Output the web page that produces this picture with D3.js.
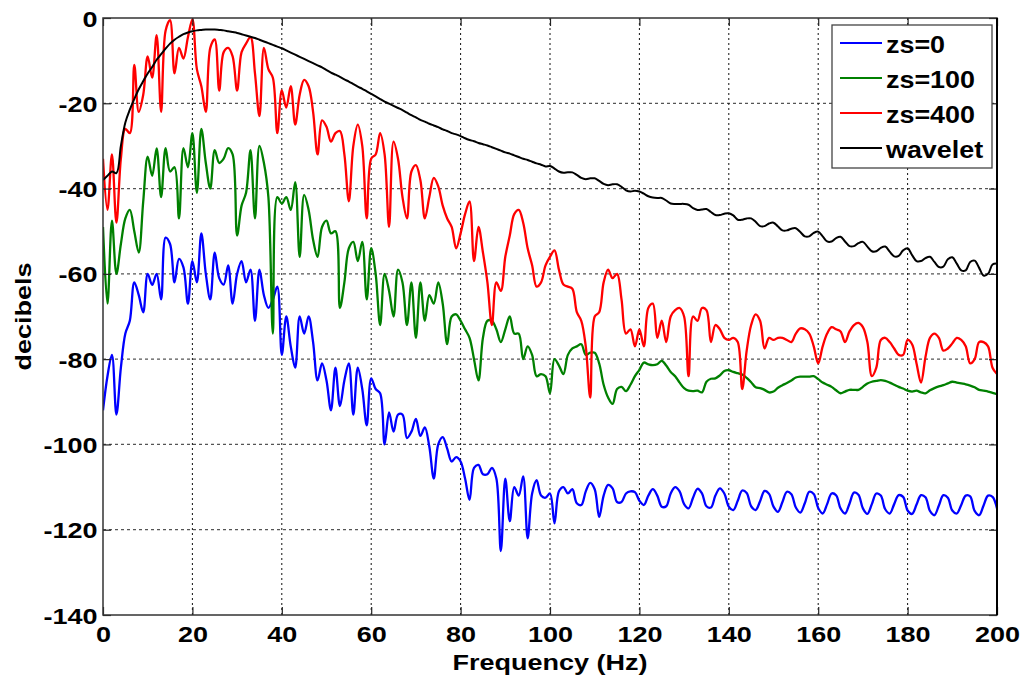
<!DOCTYPE html>
<html>
<head>
<meta charset="utf-8">
<script src="https://cdn.jsdelivr.net/npm/d3@7"></script>
<style>
  body { margin: 0; background: #fff; }
  svg { display: block; }
</style>
</head>
<body>
<div id="chart"></div>
<script>
// frequency grid (Hz), one sample per Hz
var freq = d3.range(0, 201);

// wavelet spectrum
var wavelet = [
  -38, -37, -36, -36.4, -30, -24.5, -21.5, -19, -16.7, -14.8,
  -13, -11.5, -9.8, -8.5, -7.2, -6, -5.1, -4.4, -3.8, -3.4,
  -3.1, -2.9, -2.8, -2.7, -2.7, -2.7, -2.8, -2.9, -3.1, -3.3,
  -3.5, -3.8, -4.1, -4.4, -4.7, -5.1, -5.5, -5.9, -6.3, -6.7,
  -7.1, -7.6, -8.1, -8.6, -9.1, -9.6, -10.1, -10.6, -11.1, -11.6,
  -12.2, -12.8, -13.3, -13.8, -14.4, -14.9, -15.5, -16.1, -16.6, -17.2,
  -17.8, -18.4, -19.0, -19.6, -20.1, -20.6, -21.1, -21.6, -22.2, -22.8,
  -23.3, -23.9, -24.3, -24.8, -25.2, -25.6, -26.1, -26.5, -27.0, -27.3,
  -27.7, -28.2, -28.6, -28.9, -29.3, -29.6, -29.9, -30.3, -30.7, -31.1,
  -31.5, -31.8, -32.2, -32.6, -33.0, -33.3, -33.7, -34.1, -34.4, -34.8,
  -34.7, -35.3, -36.0, -36.3, -36.2, -36.2, -36.8, -37.5, -37.8, -37.6,
  -37.6, -38.2, -38.9, -39.2, -39.0, -39.0, -39.6, -40.4, -40.7, -40.5,
  -40.7, -41.2, -41.8, -42.1, -42.2, -42.2, -42.8, -43.5, -43.6, -43.6,
  -43.6, -43.8, -44.6, -45.0, -44.9, -44.8, -45.5, -46.2, -46.2, -45.9,
  -45.8, -46.3, -47.3, -47.3, -47.0, -47.0, -47.8, -48.8, -48.8, -48.2,
  -48.0, -48.9, -49.8, -49.8, -49.4, -49.3, -50.2, -51.2, -51.2, -50.4,
  -50.1, -51.2, -52.4, -52.4, -51.6, -51.3, -52.4, -53.5, -53.5, -52.8,
  -52.5, -53.6, -54.7, -54.7, -53.9, -53.6, -54.8, -55.9, -55.8, -54.5,
  -54.0, -55.6, -57.0, -57.0, -56.3, -56.0, -57.2, -58.4, -58.3, -56.6,
  -56.1, -57.6, -59.2, -59.2, -57.2, -56.9, -58.6, -60.4, -60.0, -57.8,
  -57.6
];

// zs=400
var zs400 = [
  -33, -45, -32, -48, -33, -26, -27, -11, -22, -18,
  -9, -14, -4, -22, -3, -0.5, -13, -7, -9.5, -4.5,
  -0.3, -12, -16, -22, -7, -5, -17, -8, -7, -9,
  -17, -8, -6, -4.5, -13, -23, -7, -12, -14, -27,
  -17, -21, -16, -25, -18, -14.5, -16, -22, -32, -24,
  -25.5, -29, -27, -26.5, -32, -43, -30, -25, -30, -47,
  -33, -32, -27, -32, -49, -29, -33, -42, -47, -36,
  -34.5, -38, -47, -42, -37.5, -39.5, -44, -47, -49, -54,
  -50.5, -46, -43, -57, -49, -55, -62, -72, -62, -64,
  -56, -51, -46, -45, -48, -54, -58, -63, -62, -58,
  -56, -54.5, -59, -62.5, -63, -63.5, -69, -71, -77, -89,
  -70, -69, -62, -59, -61, -60, -66, -74, -73, -77,
  -73, -77, -68, -67, -75, -71, -76, -70, -68.5, -68,
  -70, -84, -70, -71, -68, -68.5, -76, -72, -73, -75,
  -75.5, -75, -76, -87, -78, -72, -69.5, -71, -77.5, -75,
  -75.5, -75, -75, -75.5, -76, -74, -72.8, -73, -74, -77,
  -81, -77, -74, -72.5, -73, -73.5, -76, -73.5, -72, -71.5,
  -72.5, -76, -84, -82, -75.5, -75, -76, -77.5, -79, -79,
  -75.5, -76.5, -81, -85.5, -79.5, -75, -74, -75, -78, -77.5,
  -76.3, -75, -75.5, -77, -81, -80, -76, -76, -77, -82,
  -83.5
];

// zs=100
var zs100 = [
  -49, -67, -47.5, -60, -53, -47, -45, -50, -55, -43,
  -32.5, -37, -30.6, -42, -30.5, -36, -35, -47, -30.5, -35,
  -27, -41, -26, -34, -40, -31, -34, -33, -30.5, -32,
  -51, -44, -41, -31, -47, -30, -34, -42, -74, -42,
  -43.5, -42, -45, -38.5, -56, -41.5, -45, -52, -56, -49,
  -47.5, -50.5, -50, -68, -62, -54, -52.5, -57, -52.5, -66,
  -54, -60, -72, -60, -64, -70, -59, -62, -72, -62,
  -75, -62, -71, -65, -67, -62, -67, -76.5, -70, -69.5,
  -71, -73, -75, -80, -85, -75, -71, -71, -73, -76,
  -73, -70, -74, -74, -80, -77, -79, -84, -83.5, -84,
  -88, -80, -81.5, -83.5, -79, -77.5, -77, -76.5, -79, -78.5,
  -78.5, -81, -86, -89, -90.5, -87, -86.5, -87.5, -86, -84,
  -82.5, -80.8, -81.2, -81.4, -81.2, -80.4, -81.5, -83, -84, -85.5,
  -86.8, -87.4, -87.5, -87.4, -87.8, -85.3, -84.6, -84.5, -83.8, -82.8,
  -82.6, -83, -83.3, -83.6, -84.4, -85.4, -86.6, -86.8, -87.2, -87.8,
  -87.6, -86.7, -86.1, -85.6, -85, -84.3, -84.1, -84.1, -84.1, -84,
  -84.7, -85.5, -86, -86.5, -87.3, -88, -87.6, -87.2, -87.2, -87.2,
  -86.5, -85.7, -85.3, -85.1, -84.9, -85.1, -85.5, -86, -86.5, -86.9,
  -87.4, -87.6, -87.4, -87.8, -88, -87.3, -86.8, -86.4, -86.1, -85.7,
  -85.3, -85.5, -85.7, -85.9, -86.2, -86.6, -87.2, -87.4, -87.6, -87.9,
  -88.2
];

// zs=0
var zs0 = [
  -92, -84, -79, -93, -82, -74, -71, -62, -65, -69,
  -60, -62.6, -60, -66, -51.5, -53, -62, -56.5, -58.5, -67,
  -57, -62, -50.5, -60, -66, -55, -61, -62.5, -58, -67,
  -60, -57, -62, -59, -71, -59, -65, -68, -66, -63,
  -79, -70, -77, -82, -70, -74, -70, -76, -85, -81,
  -85, -92, -82, -91, -85, -81, -93, -82, -87, -95.5,
  -84.5, -87, -88, -100, -92.5, -97, -93, -93, -98.5, -97,
  -94, -98, -96, -100.5, -108, -100, -98.3, -101, -104, -103,
  -104, -108, -113, -105.5, -104.8, -107, -107, -105.5, -108, -125,
  -108, -118, -110, -112, -107.5, -122, -111.5, -108.4, -112, -112.5,
  -111.5, -118.5, -111, -110, -111.5, -110.5, -113.8, -114.2, -111, -109,
  -110.5, -117, -112, -109.5, -110.3, -113.5, -113.5, -111.5, -111, -111.2,
  -113.2, -114.2, -112, -110.5, -112, -114.6, -114.5, -111.5, -110, -111,
  -114, -115, -112.5, -110.4, -111.5, -114.5, -114.8, -112, -110.3, -111.5,
  -114.6, -115.4, -113.2, -110.8, -111.4, -114.5, -115.4, -113.3, -110.9, -111.6,
  -114.6, -115.8, -113.5, -111.1, -111.7, -114.8, -116, -113.8, -111.1, -111.6,
  -114.9, -116.2, -114, -111.5, -111.9, -115, -116.2, -113.9, -111.3, -111.8,
  -115, -116.3, -114, -111.5, -112, -115.2, -116.2, -114, -111.9, -112.3,
  -115.5, -116.3, -114.1, -111.9, -112.4, -115.6, -116.6, -114.3, -111.9, -112.5,
  -115.5, -116.2, -114.2, -112, -112.2, -115.6, -116.6, -114.3, -112, -112.3,
  -115
];

var xTicks = [0, 20, 40, 60, 80, 100, 120, 140, 160, 180, 200];
var yTicks = [-140, -120, -100, -80, -60, -40, -20, 0];
var seriesNames = ["zs=0", "zs=100", "zs=400", "wavelet"];
var seriesColors = ["#0000ff", "#008000", "#ff0000", "#000000"];
var seriesData = [zs0, zs100, zs400, wavelet];

var W = 1020, H = 679;
var margin = {top: 18, right: 23, bottom: 64, left: 103};
var width = W - margin.left - margin.right,
    height = H - margin.top - margin.bottom;
var FONT = "'Liberation Sans', Arial, Helvetica, sans-serif";
var SX = 1.2; // glyphs in the original are drawn wide

var svg = d3.select("#chart").append("svg")
    .attr("width", W)
    .attr("height", H);

var g = svg.append("g").attr("transform", "translate(" + margin.left + "," + margin.top + ")");

var x = d3.scaleLinear().domain([0, 200]).range([0, width]);
var y = d3.scaleLinear().domain([-140, 0]).range([height, 0]);

// grid
g.append("g").selectAll("line").data(yTicks.slice(1, -1)).enter().append("line")
    .attr("x1", 0).attr("x2", width)
    .attr("y1", function(d) { return y(d); }).attr("y2", function(d) { return y(d); })
    .attr("stroke", "#555").attr("stroke-width", 1.3).attr("stroke-dasharray", "3,3");
g.append("g").selectAll("line").data(xTicks.slice(1, -1)).enter().append("line")
    .attr("y1", 0).attr("y2", height)
    .attr("x1", function(d) { return x(d); }).attr("x2", function(d) { return x(d); })
    .attr("stroke", "#111").attr("stroke-width", 1).attr("stroke-dasharray", "2,3");

// curves
var line = d3.line()
    .x(function(d, i) { return x(freq[i]); })
    .y(function(d) { return y(d); })
    .curve(d3.curveCatmullRom.alpha(0.5));

g.append("clipPath").attr("id", "clip").append("rect")
    .attr("x", 0).attr("y", -2).attr("width", width).attr("height", height + 2);

g.append("g").attr("clip-path", "url(#clip)")
    .selectAll("path").data(seriesData).enter().append("path")
    .attr("d", line)
    .attr("fill", "none")
    .attr("stroke", function(d, i) { return seriesColors[i]; })
    .attr("stroke-width", function(d, i) { return i == 3 ? 2 : 2.3; })
    .attr("stroke-linejoin", "round");

// axes (ticks point inwards)
function styleTicks(sel) {
    sel.select(".domain").remove();
    sel.selectAll(".tick line").attr("stroke", "#222").attr("stroke-width", 1.2);
}

var yAxis = g.append("g")
    .call(d3.axisLeft(y).tickValues(yTicks).tickSize(-8).tickPadding(0)
        .tickFormat(function(d) { return String(d); }));
styleTicks(yAxis);
yAxis.selectAll(".tick text")
    .attr("x", -5.5 / SX).attr("dy", "0.36em")
    .attr("transform", "scale(" + SX + ",1)")
    .style("font-family", FONT).style("font-size", "22.5px").style("font-weight", "bold")
    .attr("fill", "#000");

var xAxis = g.append("g").attr("transform", "translate(0," + height + ")")
    .call(d3.axisBottom(x).tickValues(xTicks).tickSize(-8).tickPadding(11)
        .tickFormat(function(d) { return String(d); }));
styleTicks(xAxis);
xAxis.selectAll(".tick text")
    .attr("transform", "scale(" + SX + ",1)")
    .style("font-family", FONT).style("font-size", "22.5px").style("font-weight", "bold")
    .attr("fill", "#000");

var topAxis = g.append("g")
    .call(d3.axisTop(x).tickValues(xTicks).tickSize(-8).tickFormat(""));
styleTicks(topAxis);
var rightAxis = g.append("g").attr("transform", "translate(" + width + ",0)")
    .call(d3.axisRight(y).tickValues(yTicks).tickSize(-8).tickFormat(""));
styleTicks(rightAxis);

// box
g.append("rect")
    .attr("x", 0).attr("y", 0).attr("width", width).attr("height", height)
    .attr("fill", "none").attr("stroke", "#333").attr("stroke-width", 1.5);
g.append("line")
    .attr("x1", width).attr("x2", width).attr("y1", 0).attr("y2", height)
    .attr("stroke", "#000").attr("stroke-width", 2);

// axis titles
svg.append("text")
    .attr("transform", "translate(" + (margin.left + width / 2) + ",670) scale(" + SX + ",1)")
    .attr("text-anchor", "middle")
    .style("font-family", FONT).style("font-size", "22.5px").style("font-weight", "bold")
    .text("Frequency (Hz)");

svg.append("text")
    .attr("transform", "translate(31," + (margin.top + height / 2) + ") rotate(-90) scale(" + SX + ",1)")
    .attr("text-anchor", "middle")
    .style("font-family", FONT).style("font-size", "22.5px").style("font-weight", "bold")
    .text("decibels");

// legend
var legend = svg.append("g").attr("transform", "translate(832,25)");
legend.append("rect")
    .attr("width", 160).attr("height", 143)
    .attr("fill", "#fff").attr("stroke", "#444").attr("stroke-width", 1.3);

var items = legend.selectAll(".item").data(seriesNames).enter().append("g")
    .attr("class", "item")
    .attr("transform", function(d, i) { return "translate(0," + (18 + i * 35) + ")"; });
items.append("line")
    .attr("x1", 8).attr("x2", 50)
    .attr("stroke", function(d, i) { return seriesColors[i]; })
    .attr("stroke-width", 2);
items.append("text")
    .attr("transform", "translate(54,10) scale(1.17,1)")
    .style("font-family", FONT).style("font-size", "23px").style("font-weight", "bold")
    .text(function(d) { return d; });
</script>
</body>
</html>
